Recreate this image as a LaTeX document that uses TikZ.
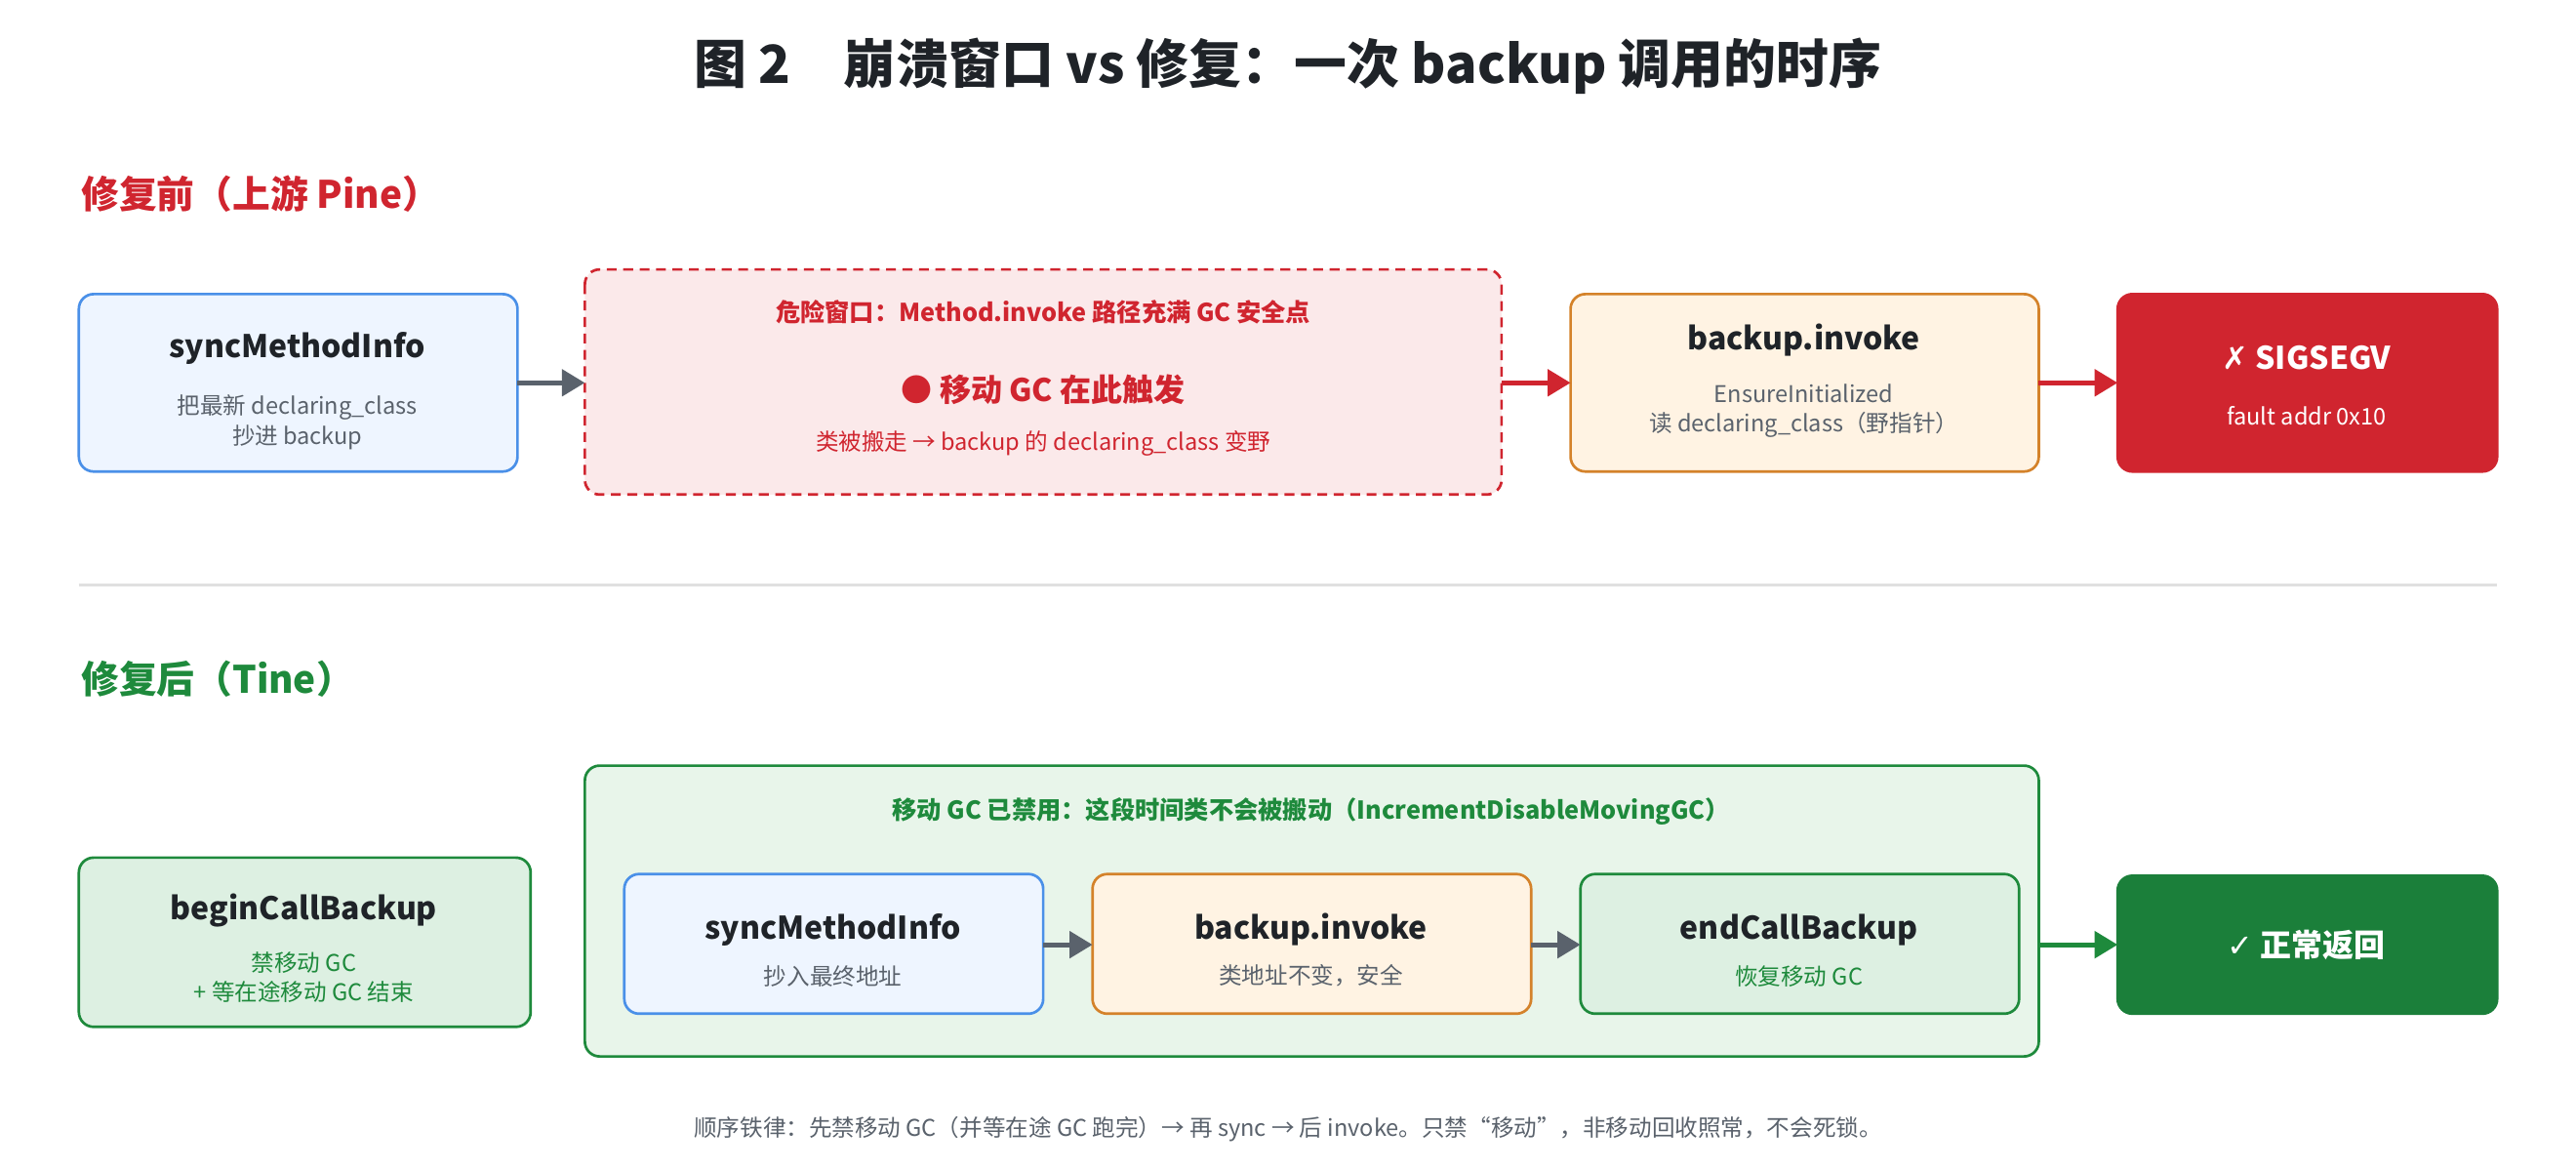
\documentclass[tikz,border=0pt]{standalone}
\usepackage{fontspec}
\setmainfont{Noto Sans CJK SC}
\newfontfamily\symfont{DejaVu Sans}
\usetikzlibrary{arrows.meta}
\definecolor{cblue}{HTML}{4A90E8}
\definecolor{cbluef}{HTML}{EEF5FF}
\definecolor{cred}{HTML}{D0252F}
\definecolor{credf}{HTML}{FBE9EA}
\definecolor{corange}{HTML}{D4822A}
\definecolor{corangef}{HTML}{FFF3E3}
\definecolor{cgreen}{HTML}{1E8A3C}
\definecolor{cgreenf}{HTML}{DDF0E2}
\definecolor{cgreenbg}{HTML}{E8F5EA}
\definecolor{cdark}{HTML}{1B7F3A}
\definecolor{cgray}{HTML}{5A626C}
\definecolor{ctext}{HTML}{1F2328}
\tikzset{
  box/.style={rounded corners=9pt,line width=1.6pt,anchor=north west,inner sep=0pt},
  ttl/.style={font=\fontsize{19}{22}\selectfont\bfseries,text=ctext},
  sub/.style={font=\fontsize{14}{16}\selectfont,text=cgray,align=center},
  arr/.style={line width=3pt,-{Triangle[length=14pt,width=16pt]}},
}
\begin{document}
\begin{tikzpicture}[x=1pt,y=-1pt]
  \useasboundingbox[fill=white] (0,0) rectangle (1568,712);
  \node[font=\fontsize{32}{36}\selectfont\bfseries,text=ctext] (title) at (784,40) {图 2\quad 崩溃窗口 vs 修复：一次 backup 调用的时序};
  % before the fix
  \node[anchor=west,font=\fontsize{23}{26}\selectfont\bfseries,text=cred] (pre) at (46,118) {修复前（上游 Pine）};
  \draw[box,draw=cblue,fill=cbluef] (48,179) rectangle (315,287);
  \node[ttl] (s1) at (181,212) {syncMethodInfo};
  \node[sub] (s1a) at (181,257) {把最新 declaring\_class\\[2pt]抄进 backup};
  \draw[box,draw=cred,fill=credf,dashed,dash pattern=on 6pt off 4pt] (356,164) rectangle (914,301);
  \coordinate (dl) at (356,233); \coordinate (dr) at (914,233);
  \node[font=\fontsize{15}{18}\selectfont\bfseries,text=cred] (d1) at (635,190) {危险窗口：Method.invoke 路径充满 GC 安全点};
  \node[font=\fontsize{19}{22}\selectfont\bfseries,text=cred] (d2) at (635,237) {● 移动 GC 在此触发};
  \node[font=\fontsize{14}{16}\selectfont,text=cred] (d3) at (635,270) {类被搬走 → backup 的 declaring\_class 变野};
  \draw[box,draw=corange,fill=corangef] (956,179) rectangle (1241,287);
  \node[ttl] (b1) at (1098,207) {backup.invoke};
  \node[sub] (b1a) at (1098,250) {EnsureInitialized\\[2pt]读 declaring\_class（野指针）};
  \draw[box,draw=cred,fill=cred] (1289,179) rectangle (1520,287);
  \node[font=\fontsize{19}{22}\selectfont\bfseries,text=white] (crash) at (1404,218) {{\symfont ✗} SIGSEGV};
  \node[font=\fontsize{14}{16}\selectfont,text=white] (crasha) at (1404,253) {fault addr 0x10};
  \draw[arr,draw=cgray,fill=cgray] (315,233) -- (dl);
  \draw[arr,draw=cred,fill=cred] (dr) -- (956,233);
  \draw[arr,draw=cred,fill=cred] (1241,233) -- (1289,233);
  \draw[line width=1.5pt,draw=black!12] (48,356) -- (1520,356);
  % after the fix
  \node[anchor=west,font=\fontsize{23}{26}\selectfont\bfseries,text=cgreen] (post) at (46,413) {修复后（Tine）};
  \draw[box,draw=cgreen,fill=cgreenf] (48,522) rectangle (323,625);
  \node[ttl] (bc) at (185,554) {beginCallBackup};
  \node[sub,text=cgreen] (bca) at (185,595) {禁移动 GC\\[2pt]+ 等在途移动 GC 结束};
  \draw[box,draw=cgreen,fill=cgreenbg] (356,466) rectangle (1241,643);
  \node[font=\fontsize{15}{18}\selectfont\bfseries,text=cgreen] (win) at (798,494) {移动 GC 已禁用：这段时间类不会被搬动（IncrementDisableMovingGC）};
  \draw[box,draw=cblue,fill=cbluef] (380,532) rectangle (635,617);
  \node[ttl] (s2) at (507,566) {syncMethodInfo};
  \node[sub] (s2a) at (507,594) {抄入最终地址};
  \draw[box,draw=corange,fill=corangef] (665,532) rectangle (932,617);
  \node[ttl] (b2) at (798,566) {backup.invoke};
  \node[sub] (b2a) at (798,594) {类地址不变，安全};
  \draw[box,draw=cgreen,fill=cgreenf] (962,532) rectangle (1229,617);
  \node[ttl] (ec) at (1095,566) {endCallBackup};
  \node[sub,text=cgreen] (eca) at (1095,594) {恢复移动 GC};
  \draw[box,draw=cdark,fill=cdark] (1289,533) rectangle (1520,617);
  \node[font=\fontsize{19}{22}\selectfont\bfseries,text=white] (ok) at (1404,575) {{\symfont ✓} 正常返回};
  \draw[arr,draw=cgray,fill=cgray] (635,575) -- (665,575);
  \draw[arr,draw=cgray,fill=cgray] (932,575) -- (962,575);
  \draw[arr,draw=cgreen,fill=cgreen] (1241,575) -- (1289,575);
  \node[font=\fontsize{14}{16}\selectfont,text=cgray] (note) at (784,687) {顺序铁律：先禁移动 GC（并等在途 GC 跑完）→ 再 sync → 后 invoke。只禁“移动”，非移动回收照常，不会死锁。};
\end{tikzpicture}
\end{document}
